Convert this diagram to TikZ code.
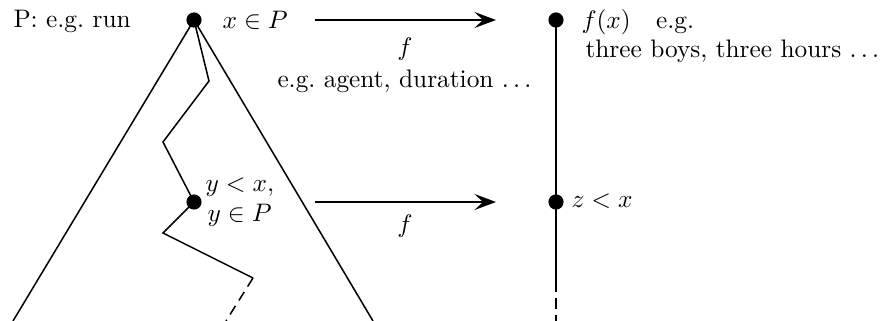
\documentclass[tikz,border=0pt]{standalone}
\usetikzlibrary{arrows.meta}
\begin{document}
\begin{tikzpicture}[x=0.395pt,y=-0.395pt,
  dot/.style={circle,fill,inner sep=0pt,minimum size=6pt},
  ln/.style={line width=0.6pt},
  dsh/.style={ln,dash pattern=on 4pt off 2.5pt},
  arr/.style={line width=0.75pt,-{Stealth[length=8.5pt,width=6.3pt,inset=3.4pt]}},
  lbl/.style={inner sep=0pt,anchor=base west}]
\useasboundingbox (0,0) rectangle (884,321);
% dots
\node[dot] (x) at (194,20) {};
\node[dot] (y) at (194,202) {};
\node[dot] (fx) at (556,20) {};
\node[dot] (z) at (556,202) {};
% coordinates
\coordinate (bl) at (13,321);
\coordinate (br) at (373,321);
\coordinate (p1) at (209,81);
\coordinate (p2) at (163,142);
\coordinate (p3) at (163,233);
\coordinate (p4) at (253,278);
\coordinate (p5) at (226,321);
\coordinate (v1) at (556,282);
\coordinate (v2) at (556,321);
\coordinate (a1s) at (315,20);
\coordinate (a1e) at (496,20);
\coordinate (a2s) at (315,202);
\coordinate (a2e) at (496,202);
% triangle
\draw[ln] (x.center) -- (bl);
\draw[ln] (x.center) -- (br);
% zigzag
\draw[ln] (x.center) -- (p1) -- (p2) -- (y.center) -- (p3) -- (p4);
\draw[dsh] (p4) -- (p5);
% vertical line
\draw[ln] (fx.center) -- (z.center) -- (v1);
\draw[dsh] (v1) -- (v2);
% arrows
\draw[arr] (a1s) -- (a1e);
\draw[arr] (a2s) -- (a2e);
% labels
\node[lbl] (lp) at (13,28) {P: e.g.\ run};
\node[lbl] (lx) at (222,29) {$x\in P$};
\node[inner sep=0pt,anchor=base] (lf1) at (405,56) {$f$};
\node[lbl] (lag) at (277,88) {e.g.\ agent, duration $\ldots$};
\node[lbl] (ly1) at (205,192) {$y<x,$};
\node[lbl] (ly2) at (207,222) {$y\in P$};
\node[inner sep=0pt,anchor=base] (lf2) at (405,233) {$f$};
\node[lbl] (lfx) at (581,29) {$f(x)$\quad e.g.};
\node[lbl] (lth) at (585,58) {three boys, three hours $\ldots$};
\node[lbl] (lz) at (571,208) {$z<x$};
\end{tikzpicture}
\end{document}
